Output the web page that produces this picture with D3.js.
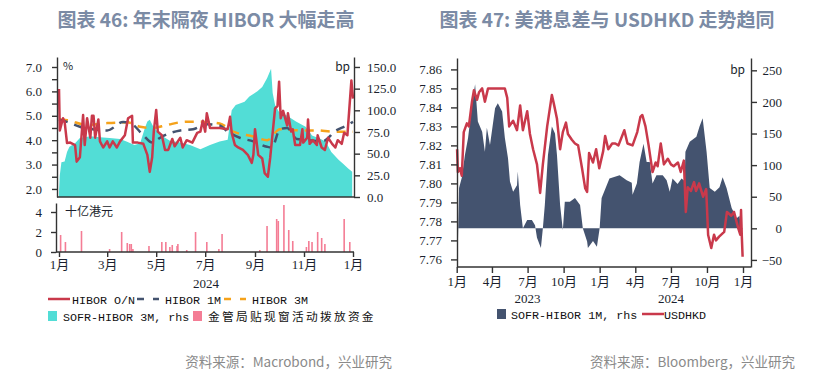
<!DOCTYPE html>
<html>
<head>
<meta charset="utf-8">
<script src="https://cdn.jsdelivr.net/npm/d3@7"></script>
<style>
  body { margin: 0; background: #fff; }
  text { font-family: "Liberation Serif", "Noto Sans CJK SC", serif; }
</style>
</head>
<body>
<div id="chart"></div>
<script>
// ---- chart 46 data (2024) ----
const hiborON = [
  ["2024-01-01", 6.1], ["2024-01-02", 4.4], ["2024-01-06", 4.9], ["2024-01-08", 4.75], ["2024-01-11", 3.88],
  ["2024-01-15", 3.9], ["2024-01-21", 3.8], ["2024-01-23", 3.12], ["2024-01-27", 3.3], ["2024-01-31", 5.03],
  ["2024-02-02", 3.8], ["2024-02-05", 4.9], ["2024-02-09", 4.1], ["2024-02-11", 5.0], ["2024-02-13", 5.0],
  ["2024-02-15", 4.1], ["2024-02-19", 4.85], ["2024-02-21", 3.95], ["2024-02-25", 3.7], ["2024-03-01", 3.95],
  ["2024-03-04", 3.7], ["2024-03-08", 3.95], ["2024-03-13", 3.7], ["2024-03-17", 3.95], ["2024-03-23", 4.2],
  ["2024-03-27", 4.9], ["2024-04-01", 5.0], ["2024-04-02", 3.9], ["2024-04-08", 3.9], ["2024-04-15", 3.85],
  ["2024-04-20", 3.4], ["2024-04-23", 2.7], ["2024-04-26", 3.3], ["2024-04-28", 4.35], ["2024-05-01", 5.24],
  ["2024-05-03", 4.35], ["2024-05-08", 4.2], ["2024-05-12", 3.6], ["2024-05-16", 3.6], ["2024-05-21", 4.05],
  ["2024-05-24", 3.75], ["2024-05-31", 4.1], ["2024-06-03", 3.7], ["2024-06-08", 4.0], ["2024-06-15", 3.9],
  ["2024-06-21", 4.3], ["2024-06-25", 4.35], ["2024-06-28", 4.8], ["2024-07-01", 4.35], ["2024-07-03", 5.1],
  ["2024-07-07", 4.5], ["2024-07-19", 4.5], ["2024-07-29", 4.45], ["2024-08-01", 4.96], ["2024-08-03", 4.3],
  ["2024-08-07", 3.8], ["2024-08-11", 3.7], ["2024-08-17", 3.6], ["2024-08-23", 3.4], ["2024-08-28", 3.07],
  ["2024-08-30", 3.4], ["2024-09-01", 4.45], ["2024-09-05", 3.4], ["2024-09-10", 3.25], ["2024-09-13", 2.65],
  ["2024-09-17", 2.5], ["2024-09-20", 3.3], ["2024-09-26", 5.3], ["2024-09-29", 5.4], ["2024-10-01", 6.4],
  ["2024-10-03", 4.9], ["2024-10-06", 5.2], ["2024-10-11", 4.6], ["2024-10-12", 5.1], ["2024-10-16", 4.35],
  ["2024-10-18", 4.45], ["2024-10-21", 3.8], ["2024-10-27", 3.8], ["2024-10-30", 4.45], ["2024-10-31", 3.9],
  ["2024-11-05", 4.1], ["2024-11-06", 4.85], ["2024-11-08", 3.85], ["2024-11-12", 4.0], ["2024-11-17", 3.8],
  ["2024-11-18", 4.2], ["2024-11-23", 3.7], ["2024-11-27", 3.6], ["2024-12-01", 4.1], ["2024-12-06", 3.85],
  ["2024-12-10", 3.7], ["2024-12-13", 4.0], ["2024-12-18", 3.85], ["2024-12-21", 4.3], ["2024-12-25", 4.2],
  ["2024-12-27", 5.1], ["2024-12-30", 6.45], ["2025-01-01", 5.7]
];
const hibor1M = [
  ["2024-01-01", 4.85], ["2024-01-11", 4.75], ["2024-01-27", 4.55], ["2024-02-12", 4.45], ["2024-03-01", 4.4],
  ["2024-03-21", 4.75], ["2024-03-30", 4.7], ["2024-04-15", 4.2], ["2024-04-26", 3.9], ["2024-05-06", 4.1],
  ["2024-05-19", 4.3], ["2024-05-31", 4.4], ["2024-06-16", 4.45], ["2024-07-03", 4.65], ["2024-07-19", 4.6],
  ["2024-07-29", 4.35], ["2024-08-13", 4.1], ["2024-08-30", 3.95], ["2024-09-16", 3.73], ["2024-09-22", 3.7],
  ["2024-10-02", 4.45], ["2024-10-11", 4.5], ["2024-10-23", 4.05], ["2024-11-08", 4.0], ["2024-11-24", 3.95],
  ["2024-12-11", 4.4], ["2024-12-24", 4.6], ["2025-01-01", 4.75]
];
const hibor3M = [
  ["2024-01-01", 4.85], ["2024-01-11", 4.82], ["2024-02-05", 4.62], ["2024-03-01", 4.7], ["2024-03-26", 4.73],
  ["2024-04-11", 4.55], ["2024-04-27", 4.5], ["2024-05-14", 4.62], ["2024-06-08", 4.76], ["2024-06-25", 4.76],
  ["2024-07-19", 4.68], ["2024-08-05", 4.35], ["2024-08-30", 4.15], ["2024-09-16", 4.0], ["2024-10-02", 4.45],
  ["2024-10-27", 4.4], ["2024-11-17", 4.4], ["2024-12-07", 4.35], ["2025-01-01", 4.35]
];
const sofrHibor3M = [
  ["2024-01-01", 5], ["2024-01-02", 25], ["2024-01-04", 40], ["2024-01-08", 41], ["2024-01-11", 52],
  ["2024-01-14", 58], ["2024-01-21", 62], ["2024-01-27", 68], ["2024-02-09", 70], ["2024-02-21", 69],
  ["2024-03-04", 68], ["2024-03-17", 67], ["2024-03-25", 64], ["2024-04-04", 60], ["2024-04-11", 62],
  ["2024-04-17", 80], ["2024-04-20", 87], ["2024-04-23", 89], ["2024-04-27", 82], ["2024-05-03", 75],
  ["2024-05-09", 70], ["2024-05-18", 65], ["2024-05-31", 63], ["2024-06-12", 60], ["2024-06-25", 55],
  ["2024-07-07", 60], ["2024-07-19", 64], ["2024-07-29", 66], ["2024-08-03", 100], ["2024-08-08", 106],
  ["2024-08-19", 110], ["2024-08-25", 116], ["2024-09-04", 122], ["2024-09-10", 127], ["2024-09-16", 137],
  ["2024-09-21", 148], ["2024-09-23", 120], ["2024-09-26", 106], ["2024-10-01", 98], ["2024-10-09", 95],
  ["2024-10-22", 87], ["2024-11-03", 81], ["2024-11-11", 71], ["2024-11-19", 68], ["2024-11-28", 64],
  ["2024-12-05", 52], ["2024-12-14", 43], ["2024-12-20", 38], ["2024-12-26", 33], ["2024-12-31", 29]
];
// HKMA discount window, HKD bn
const discountWindow = [
  ["2024-01-03", 1.7], ["2024-01-09", 1.0], ["2024-01-29", 2.1], ["2024-03-04", 0.3], ["2024-03-19", 2.0],
  ["2024-03-26", 0.9], ["2024-03-29", 0.8], ["2024-03-31", 0.8], ["2024-04-02", 0.3], ["2024-04-22", 0.6],
  ["2024-05-08", 1.0], ["2024-05-13", 1.0], ["2024-05-18", 0.5], ["2024-05-21", 0.7], ["2024-05-27", 0.6],
  ["2024-05-28", 0.8], ["2024-06-08", 0.2], ["2024-06-19", 2.0], ["2024-07-03", 1.0], ["2024-07-18", 0.3],
  ["2024-07-22", 1.8], ["2024-09-07", 0.2], ["2024-09-16", 2.6], ["2024-09-28", 3.3], ["2024-09-30", 3.1],
  ["2024-10-07", 4.7], ["2024-10-13", 2.2], ["2024-10-18", 1.1], ["2024-11-04", 0.5], ["2024-11-07", 1.1],
  ["2024-11-11", 1.0], ["2024-11-18", 2.0], ["2024-11-23", 1.4], ["2024-11-27", 0.8], ["2024-12-21", 3.3],
  ["2024-12-28", 1.0]
];
const ticks46Left = [2, 2.5, 3, 3.5, 4, 4.5, 5, 5.5, 6, 6.5, 7];
const ticks46Right = [0, 25, 50, 75, 100, 125, 150];
const ticks46Bars = [0, 2, 4];
const months46 = ["2024-01-01", "2024-03-01", "2024-05-01", "2024-07-01", "2024-09-01", "2024-11-01", "2025-01-01"];

// ---- chart 47 data (2023-2024) ----
const sofrHibor1M = [
  ["2023-01-02", 0], ["2023-01-04", -26], ["2023-01-07", 64], ["2023-01-14", 80], ["2023-01-22", 116],
  ["2023-01-30", 143], ["2023-02-09", 195], ["2023-02-17", 228], ["2023-02-24", 169], ["2023-03-07", 153],
  ["2023-03-14", 121], ["2023-03-19", 159], ["2023-03-27", 132], ["2023-04-09", 190], ["2023-04-16", 198],
  ["2023-04-27", 185], ["2023-05-04", 143], ["2023-05-12", 111], ["2023-05-17", 74], ["2023-05-25", 58],
  ["2023-06-04", 68], ["2023-06-06", 90], ["2023-06-12", 37], ["2023-06-19", 0], ["2023-06-30", 13],
  ["2023-07-12", 13], ["2023-07-20", 5], ["2023-07-25", -15], ["2023-08-04", -31], ["2023-08-09", 0],
  ["2023-08-14", 37], ["2023-08-22", 116], ["2023-09-01", 161], ["2023-09-09", 150], ["2023-09-14", 116],
  ["2023-09-22", 37], ["2023-09-29", -3], ["2023-10-04", 42], ["2023-10-17", 42], ["2023-10-30", 48],
  ["2023-11-12", 37], ["2023-11-19", 0], ["2023-11-30", -21], ["2023-12-02", -31], ["2023-12-15", -20],
  ["2023-12-25", -29], ["2024-01-01", 0], ["2024-01-06", 48], ["2024-01-26", 79], ["2024-02-21", 84],
  ["2024-03-10", 76], ["2024-03-23", 72], ["2024-03-25", 53], ["2024-04-05", 71], ["2024-04-12", 105],
  ["2024-04-22", 134], ["2024-04-30", 105], ["2024-05-08", 105], ["2024-05-15", 71], ["2024-05-25", 84],
  ["2024-06-10", 84], ["2024-06-20", 76], ["2024-06-28", 58], ["2024-07-05", 79], ["2024-07-18", 70],
  ["2024-07-28", 79], ["2024-08-05", 75], ["2024-08-07", 121], ["2024-08-18", 137], ["2024-09-04", 145],
  ["2024-09-12", 161], ["2024-09-20", 174], ["2024-09-30", 121], ["2024-10-08", 64], ["2024-10-21", 58],
  ["2024-11-02", 65], ["2024-11-10", 81], ["2024-11-20", 64], ["2024-12-03", 32], ["2024-12-16", 16],
  ["2024-12-23", 20], ["2024-12-28", -5], ["2024-12-31", 0]
];
const usdhkd = [
  ["2023-01-02", 7.818], ["2023-01-04", 7.806], ["2023-01-09", 7.808], ["2023-01-14", 7.804], ["2023-01-19", 7.827],
  ["2023-01-27", 7.8316], ["2023-02-01", 7.830], ["2023-02-09", 7.843], ["2023-02-14", 7.849], ["2023-02-22", 7.844],
  ["2023-02-27", 7.848], ["2023-03-07", 7.850], ["2023-03-14", 7.843], ["2023-03-22", 7.850], ["2023-04-22", 7.8499],
  ["2023-05-04", 7.8499], ["2023-05-10", 7.845], ["2023-05-15", 7.830], ["2023-05-25", 7.833], ["2023-06-04", 7.828],
  ["2023-06-12", 7.841], ["2023-06-19", 7.828], ["2023-06-30", 7.838], ["2023-07-07", 7.826], ["2023-07-15", 7.818],
  ["2023-07-25", 7.810], ["2023-08-02", 7.795], ["2023-08-09", 7.810], ["2023-08-20", 7.830], ["2023-09-01", 7.8465],
  ["2023-09-06", 7.842], ["2023-09-14", 7.834], ["2023-09-22", 7.818], ["2023-09-29", 7.827], ["2023-10-07", 7.832],
  ["2023-10-12", 7.826], ["2023-10-22", 7.823], ["2023-10-30", 7.821], ["2023-11-07", 7.820], ["2023-11-17", 7.808],
  ["2023-11-25", 7.7975], ["2023-11-30", 7.7955], ["2023-12-05", 7.816], ["2023-12-15", 7.811], ["2023-12-23", 7.818],
  ["2023-12-31", 7.808], ["2024-01-10", 7.817], ["2024-01-15", 7.825], ["2024-01-23", 7.818], ["2024-02-02", 7.821],
  ["2024-02-10", 7.821], ["2024-02-18", 7.820], ["2024-03-04", 7.828], ["2024-03-12", 7.821], ["2024-03-25", 7.820],
  ["2024-04-06", 7.827], ["2024-04-14", 7.835], ["2024-04-19", 7.836], ["2024-04-27", 7.830], ["2024-05-05", 7.820],
  ["2024-05-15", 7.806], ["2024-05-23", 7.811], ["2024-05-28", 7.809], ["2024-06-05", 7.821], ["2024-06-13", 7.810],
  ["2024-06-23", 7.813], ["2024-07-01", 7.810], ["2024-07-08", 7.809], ["2024-07-19", 7.811], ["2024-07-26", 7.806],
  ["2024-08-03", 7.812], ["2024-08-08", 7.785], ["2024-08-13", 7.798], ["2024-08-21", 7.796], ["2024-08-29", 7.8007],
  ["2024-09-03", 7.796], ["2024-09-11", 7.800], ["2024-09-21", 7.793], ["2024-09-29", 7.797], ["2024-10-04", 7.7728],
  ["2024-10-12", 7.766], ["2024-10-19", 7.773], ["2024-10-24", 7.770], ["2024-11-01", 7.772], ["2024-11-14", 7.7745],
  ["2024-11-21", 7.785], ["2024-12-02", 7.783], ["2024-12-09", 7.785], ["2024-12-20", 7.7763], ["2024-12-25", 7.773],
  ["2024-12-27", 7.786], ["2024-12-29", 7.772], ["2024-12-31", 7.7614]
];
const ticks47Left = [7.76, 7.77, 7.78, 7.79, 7.80, 7.81, 7.82, 7.83, 7.84, 7.85, 7.86];
const ticks47Right = [-50, 0, 50, 100, 150, 200, 250];
const months47 = ["2023-01-01", "2023-04-01", "2023-07-01", "2023-10-01", "2024-01-01",
                  "2024-04-01", "2024-07-01", "2024-10-01", "2025-01-01"];
const years47 = ["2023", "2024"];

// ---- styles ----
const RED = "#c9394b", NAVY = "#44536f", ORANGE = "#f5a21b", TEAL = "#52ddd6", PINK = "#f47d95";
const TITLE = "#7b8ba5", AXIS = "#333";
const MONO = "'Liberation Mono', 'Noto Sans CJK SC', monospace";
const CJK = "'Noto Sans CJK SC', sans-serif";

const parse = d3.timeParse("%Y-%m-%d");
const monthFmt = d3.timeFormat("%-m月");

const svg = d3.select("#chart").append("svg")
  .attr("width", 823)
  .attr("height", 387)
  .style("background", "#fff");

function styleAxis(g) {
  g.selectAll("path, line").attr("stroke", AXIS).attr("stroke-width", 1.4);
  g.selectAll("text").attr("fill", "#1b1f2e").style("font-size", "13px")
    .style("font-family", "'Liberation Serif', 'Noto Sans CJK SC', serif");
}

// ================= chart 46 =================
const x46 = d3.scaleTime().domain([parse("2024-01-01"), parse("2025-01-01")]).range([59, 353]);
const y46 = d3.scaleLinear().domain([1.67, 7.41]).range([197, 57]);
const y46r = d3.scaleLinear().domain([0, 161.5]).range([197, 57]);
const y46b = d3.scaleLinear().domain([0, 4.9]).range([252, 203]);

svg.append("defs").append("clipPath").attr("id", "clip46")
  .append("rect").attr("x", 57).attr("y", 50).attr("width", 297).attr("height", 147);

const g46 = svg.append("g").attr("clip-path", "url(#clip46)");

g46.append("path")
  .datum(sofrHibor3M)
  .attr("fill", TEAL)
  .attr("d", d3.area().x(d => x46(parse(d[0]))).y0(y46r(0)).y1(d => y46r(d[1])));

const line46 = d3.line().x(d => x46(parse(d[0]))).y(d => y46(d[1]));

g46.append("path").datum(hibor3M).attr("fill", "none").attr("stroke", ORANGE)
  .attr("stroke-width", 2.5).attr("stroke-dasharray", "9,7").attr("d", line46.curve(d3.curveMonotoneX));
g46.append("path").datum(hibor1M).attr("fill", "none").attr("stroke", NAVY)
  .attr("stroke-width", 2.5).attr("stroke-dasharray", "9,7").attr("d", line46.curve(d3.curveMonotoneX));
g46.append("path").datum(hiborON).attr("fill", "none").attr("stroke", RED)
  .attr("stroke-width", 2.5).attr("stroke-linejoin", "round")
  .attr("d", line46.curve(d3.curveLinear));

// bottom line of upper panel
svg.append("line").attr("x1", 57).attr("x2", 354).attr("y1", 197).attr("y2", 197)
  .attr("stroke", AXIS).attr("stroke-width", 1.4);

svg.append("g").attr("transform", "translate(57,0)")
  .call(d3.axisLeft(y46).tickValues(ticks46Left).tickSize(5).tickPadding(10).tickSizeOuter(0)
    .tickFormat(d => Number.isInteger(d) ? d3.format(".1f")(d) : ""))
  .call(styleAxis);

svg.append("g").attr("transform", "translate(354,0)")
  .call(d3.axisRight(y46r).tickValues(ticks46Right).tickSize(6).tickPadding(7).tickSizeOuter(0)
    .tickFormat(d3.format(".1f")))
  .call(styleAxis);

svg.append("text").attr("x", 63).attr("y", 70).text("%")
  .style("font-size", "11px").style("font-family", CJK).attr("fill", "#1b1f2e");
svg.append("text").attr("x", 350).attr("y", 71).attr("text-anchor", "end").text("bp")
  .style("font-size", "12px").style("font-family", CJK).attr("fill", "#1b1f2e");

// bottom panel: discount window bars
svg.append("g").selectAll("rect")
  .data(discountWindow)
  .join("rect")
  .attr("x", d => x46(parse(d[0])) - 0.8)
  .attr("width", 1.6)
  .attr("y", d => y46b(d[1]))
  .attr("height", d => y46b(0) - y46b(d[1]))
  .attr("fill", PINK);

svg.append("g").attr("transform", "translate(56,0)")
  .call(d3.axisLeft(y46b).tickValues(ticks46Bars).tickSize(5).tickPadding(9).tickSizeOuter(0)
    .tickFormat(d3.format("d")))
  .call(styleAxis);

svg.append("g").attr("transform", "translate(0,252)")
  .call(d3.axisBottom(x46).tickValues(months46.map(parse)).tickSize(5).tickPadding(3)
    .tickSizeOuter(0).tickFormat(monthFmt))
  .call(styleAxis)
  .call(g => g.select(".domain").attr("d", "M56,0H354"));

svg.append("text").attr("x", 65).attr("y", 216).text("十亿港元")
  .style("font-size", "12px").style("font-family", MONO).attr("fill", "#1b1f2e");

svg.append("text").attr("x", 206).attr("y", 288).attr("text-anchor", "middle").text("2024")
  .style("font-size", "13px").attr("fill", "#1b1f2e");

// ================= chart 47 =================
const x47 = d3.scaleTime().domain([parse("2023-01-01"), parse("2025-01-01")]).range([456.7, 743]);
const y47 = d3.scaleLinear().domain([7.756, 7.866]).range([267, 58]);
const y47r = d3.scaleLinear().domain([-61.2, 269.5]).range([267, 58]);

svg.append("path")
  .datum(sofrHibor1M)
  .attr("fill", NAVY)
  .attr("d", d3.area().x(d => x47(parse(d[0]))).y0(y47r(0)).y1(d => y47r(d[1])));

svg.append("path")
  .datum(usdhkd)
  .attr("fill", "none")
  .attr("stroke", RED)
  .attr("stroke-width", 2.5)
  .attr("stroke-linejoin", "round")
  .attr("d", d3.line().x(d => x47(parse(d[0]))).y(d => y47(d[1])));

svg.append("g").attr("transform", "translate(457,0)")
  .call(d3.axisLeft(y47).tickValues(ticks47Left).tickSize(6).tickPadding(9).tickSizeOuter(0)
    .tickFormat(d3.format(".2f")))
  .call(styleAxis);

svg.append("g").attr("transform", "translate(751,0)")
  .call(d3.axisRight(y47r).tickValues(ticks47Right).tickSize(6).tickSizeOuter(0))
  .call(styleAxis)
  .call(g => g.selectAll("text").attr("x", 31).attr("text-anchor", "end"));

svg.append("g").attr("transform", "translate(0,267)")
  .call(d3.axisBottom(x47).tickValues(months47.map(parse)).tickSize(6).tickPadding(4)
    .tickSizeOuter(0).tickFormat(monthFmt))
  .call(styleAxis)
  .call(g => g.select(".domain").attr("d", "M457,0H751"));

svg.selectAll(".year47")
  .data(years47)
  .join("text")
  .attr("x", d => x47(parse(d + "-07-01")))
  .attr("y", 303)
  .attr("text-anchor", "middle")
  .text(d => d)
  .style("font-size", "13px")
  .attr("fill", "#1b1f2e");

svg.append("text").attr("x", 745).attr("y", 74).attr("text-anchor", "end").text("bp")
  .style("font-size", "12px").style("font-family", CJK).attr("fill", "#1b1f2e");

// ================= legends =================
function legendLine(x, y, color, dashed) {
  svg.append("line").attr("x1", x).attr("x2", x + 22).attr("y1", y).attr("y2", y)
    .attr("stroke", color).attr("stroke-width", 2.5)
    .attr("stroke-dasharray", dashed ? "7,9" : null);
}
function legendBox(x, y, color) {
  svg.append("rect").attr("x", x).attr("y", y - 5).attr("width", 9).attr("height", 10).attr("fill", color);
}
function legendText(x, y, t, spacing) {
  svg.append("text").attr("x", x).attr("y", y + 4.5).text(t)
    .style("font-family", MONO).style("font-size", "11.7px")
    .style("letter-spacing", spacing || "0px")
    .attr("fill", "#111");
}

legendLine(48, 299, RED, false);
legendText(72, 299, "HIBOR O/N");
legendLine(137, 299, NAVY, true);
legendText(165, 299, "HIBOR 1M");
legendLine(224, 299, ORANGE, true);
legendText(252, 299, "HIBOR 3M");
legendBox(48, 316, TEAL);
legendText(63, 316, "SOFR-HIBOR 3M, rhs");
legendBox(193, 316, PINK);
legendText(208, 316, "金管局贴现窗活动拨放资金", "2.3px");

legendBox(497, 314, NAVY);
legendText(511, 314, "SOFR-HIBOR 1M, rhs");
legendLine(642, 314, RED, false);
legendText(664, 314, "USDHKD");

// ================= titles & sources =================
const titles = [
  { x: 206, t: "图表 46: 年末隔夜 HIBOR 大幅走高" },
  { x: 607, t: "图表 47: 美港息差与 USDHKD 走势趋同" }
];
svg.selectAll(".title")
  .data(titles)
  .join("text")
  .attr("x", d => d.x)
  .attr("y", 27)
  .attr("text-anchor", "middle")
  .text(d => d.t)
  .style("font-family", CJK)
  .style("font-size", "19px")
  .style("font-weight", "bold")
  .attr("fill", TITLE);

const sources = [
  { x: 392, t: "资料来源：Macrobond，兴业研究" },
  { x: 795, t: "资料来源：Bloomberg，兴业研究" }
];
svg.selectAll(".source")
  .data(sources)
  .join("text")
  .attr("x", d => d.x)
  .attr("y", 367)
  .attr("text-anchor", "end")
  .text(d => d.t)
  .style("font-family", CJK)
  .style("font-size", "13.5px")
  .attr("fill", "#8a8a8a");
</script>
</body>
</html>
